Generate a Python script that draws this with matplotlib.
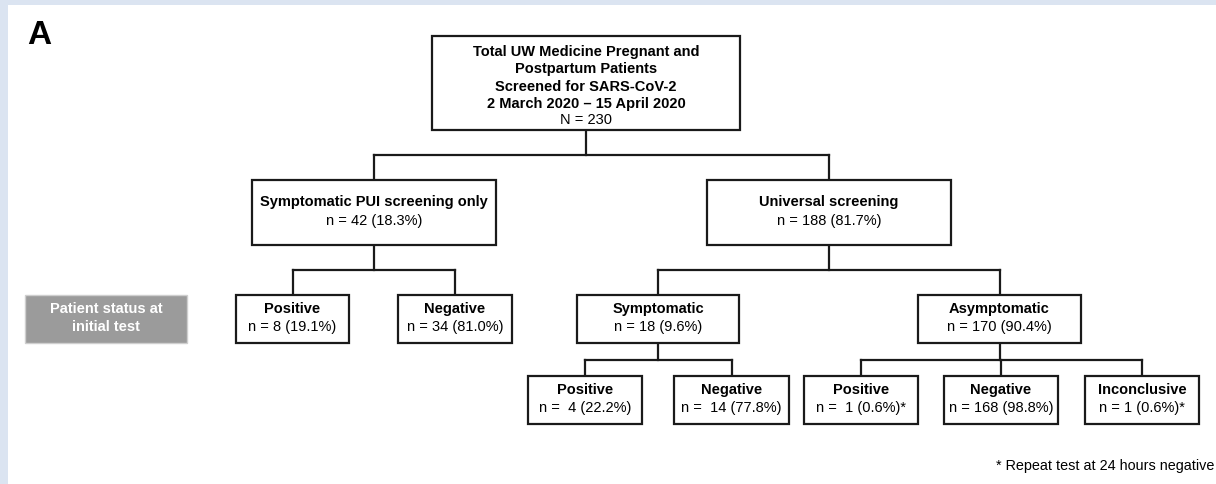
import matplotlib.pyplot as plt
from matplotlib.patches import Rectangle

plt.rcParams['font.family'] = ['Liberation Sans', 'DejaVu Sans']

# node texts
titles = ["Total UW Medicine Pregnant and\nPostpartum Patients\nScreened for SARS-CoV-2\n2 March 2020 \u2013 15 April 2020",
          "Symptomatic PUI screening only", "Universal screening",
          "Positive", "Negative", "Symptomatic", "Asymptomatic",
          "Positive", "Negative", "Positive", "Negative", "Inconclusive"]
counts = [230, 42, 188, 8, 34, 18, 170, 4, 14, 1, 168, 1]
pcts = [None, 18.3, 81.7, 19.1, 81.0, 9.6, 90.4, 22.2, 77.8, 0.6, 98.8, 0.6]
n_labels = ["N = 230", "n = 42 (18.3%)", "n = 188 (81.7%)",
            "n = 8 (19.1%)", "n = 34 (81.0%)", "n = 18 (9.6%)", "n = 170 (90.4%)",
            "n =  4 (22.2%)", "n =  14 (77.8%)", "n =  1 (0.6%)*", "n = 168 (98.8%)", "n = 1 (0.6%)*"]
parents = [None, 0, 0, 1, 1, 2, 2, 5, 5, 6, 6, 6]

# layout in pixels: x0, x1, y0, y1
boxes = [(432, 740, 37, 131),
         (252, 496, 181, 246), (707, 951, 181, 246),
         (236, 349, 296, 344), (398, 512, 296, 344), (577, 739, 296, 344), (918, 1081, 296, 344),
         (528, 642, 377, 425), (674, 789, 377, 425), (804, 918, 377, 425), (944, 1058, 377, 425), (1085, 1199, 377, 425)]

side_label = "Patient status at\ninitial test"
footnote = "* Repeat test at 24 hours negative"

W, H = 1216, 485
fig = plt.figure(figsize=(W / 100, H / 100), dpi=100)
fig.patch.set_facecolor('#dbe4f1')
ax = fig.add_axes([0, 0, 1, 1])
ax.set_xlim(0, W)
ax.set_ylim(H, 0)
ax.axis('off')

ax.add_patch(Rectangle((8, 6), W, H, facecolor='white', edgecolor='none'))

ax.text(27, 35, "A", fontsize=24, fontweight='bold', va='center', ha='left')

fs = 10.5
lw = 1.6
for i, (x0, x1, y0, y1) in enumerate(boxes):
    ax.add_patch(Rectangle((x0, y0), x1 - x0, y1 - y0, facecolor='white',
                           edgecolor='#1a1a1a', lw=lw, zorder=3))
    cx = (x0 + x1) / 2
    if i == 0:
        ax.text(cx, 78, titles[i], fontsize=fs, fontweight='bold', ha='center', va='center',
                linespacing=1.33, zorder=4)
        ax.text(cx, 120, n_labels[i], fontsize=fs, ha='center', va='center', zorder=4)
    else:
        cy = (y0 + y1) / 2
        ax.text(cx, cy - 11, titles[i], fontsize=fs, fontweight='bold', ha='center', va='center', zorder=4)
        ax.text(cx, cy + 7.5, n_labels[i], fontsize=fs, ha='center', va='center', zorder=4)

# connectors
for p in set(x for x in parents if x is not None):
    kids = [i for i, q in enumerate(parents) if q == p]
    px0, px1, py0, py1 = boxes[p]
    pcx = (px0 + px1) / 2
    ky = boxes[kids[0]][2]
    ymid = (py1 + ky) / 2
    kcx = [(boxes[k][0] + boxes[k][1]) / 2 for k in kids]
    ax.plot([pcx, pcx], [py1, ymid], color='#1a1a1a', lw=lw, solid_capstyle='projecting')
    ax.plot([min(kcx), max(kcx)], [ymid, ymid], color='#1a1a1a', lw=lw, solid_capstyle='projecting')
    for c in kcx:
        ax.plot([c, c], [ymid, ky], color='#1a1a1a', lw=lw, solid_capstyle='projecting')

ax.add_patch(Rectangle((25, 296), 162, 48, facecolor='#9b9b9b', edgecolor='#cfcfcf', lw=1))
ax.text(106, 318, side_label, fontsize=fs, fontweight='bold', color='white',
        ha='center', va='center', linespacing=1.3)

ax.text(1214, 466, footnote, fontsize=10.4, ha='right', va='center')

fig.savefig('out.png', dpi=100, facecolor=fig.get_facecolor())
